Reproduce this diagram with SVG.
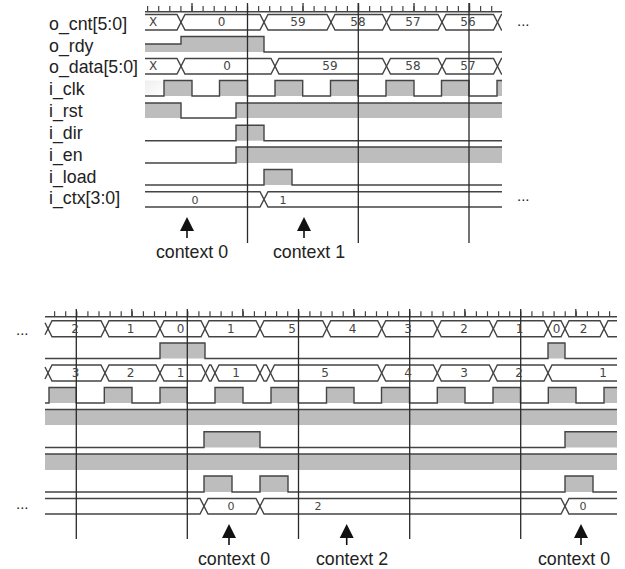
<svg xmlns="http://www.w3.org/2000/svg" width="625" height="569" viewBox="0 0 625 569">
<style>
.lbl{font:17.8px "Liberation Sans",Arial,sans-serif;fill:#222}
.v{font:12px "DejaVu Sans",sans-serif;fill:#444;text-anchor:middle}
.s{font:11px "DejaVu Sans",sans-serif;fill:#444;text-anchor:middle}
.c{text-anchor:middle}
.w{fill:none;stroke:#444;stroke-width:1.4}
.f{fill:#bdbdbd;stroke:none}
.g{fill:none;stroke:#2a2a2a;stroke-width:1.3}
.d{font:15px "Liberation Sans",sans-serif;fill:#222}
</style>
<defs>
<linearGradient id="fade" x1="0" x2="1" y1="0" y2="1"><stop offset="0" stop-color="#eeeeee"/><stop offset="1" stop-color="#fff"/></linearGradient>
<g id="arrow"><path d="M0 0L7 14H-7Z" fill="#111"/><path d="M0 13V21" stroke="#111" stroke-width="1.6"/></g>
</defs>

<g id="labels">
<text class="lbl" x="49" y="30">o_cnt[5:0]</text>
<text class="lbl" x="49" y="51.5">o_rdy</text>
<text class="lbl" x="49" y="73">o_data[5:0]</text>
<text class="lbl" x="49" y="95">i_clk</text>
<text class="lbl" x="49" y="117">i_rst</text>
<text class="lbl" x="49" y="139">i_dir</text>
<text class="lbl" x="49" y="160.5">i_en</text>
<text class="lbl" x="49" y="182.5">i_load</text>
<text class="lbl" x="49" y="204">i_ctx[3:0]</text>
<text class="d" x="517" y="26">...</text>
<text class="d" x="517" y="201">...</text>
<text class="d" x="16" y="335">...</text>
<text class="d" x="16" y="509">...</text>
</g>

<g id="fills">
<path class="f" d="M145 44H181V36.5H264V52H145Z"/>
<rect x="145" y="80.5" width="18" height="15.5" fill="url(#fade)"/>
<path class="f" d="M164 96V80.5H192V96ZM219.5 96V80.5H247.5V96ZM275 96V80.5H302.7V96ZM330.5 96V80.5H358V96ZM386 96V80.5H414V96ZM441.5 96V80.5H469V96ZM497 96V80.5H502V96Z"/>
<path class="f" d="M145 103H181V118H145ZM236 103H502V118H236Z"/>
<path class="f" d="M236 140.7V125.3H264V140.7Z"/>
<path class="f" d="M236 163V147H502V163Z"/>
<path class="f" d="M264 185V169.5H292V185Z"/>
<path class="f" d="M160 358.5V343H205V358.5ZM548 358.5V343H565V358.5Z"/>
<path class="f" d="M49 403V387.5H76.3V403ZM104.3 403V387.5H132V403ZM160 403V387.5H187.3V403ZM215 403V387.5H243V403ZM271 403V387.5H298.3V403ZM326.5 403V387.5H354V403ZM381.5 403V387.5H409.5V403ZM437.3 403V387.5H465V403ZM493 403V387.5H520.5V403ZM548.3 403V387.5H576V403ZM604 403V387.5H617V403Z"/>
<rect class="f" x="45" y="409.5" width="572" height="15.5"/>
<path class="f" d="M204 447.5V431.7H260V447.5ZM565 447.5V431.7H617V447.5Z"/>
<rect class="f" x="45" y="454" width="572" height="16"/>
<path class="f" d="M204 492V476H232V492ZM260 492V476H288V492ZM565 492V476H593V492Z"/>
</g>

<g id="connectors">
<g id="ticks-top">
<path d="M147 8.7H502" fill="none" stroke="#444" stroke-width="5.5" stroke-dasharray="1.2 9.9"/>
<path class="w" d="M145 11.7H502M192 3V11.7M303 3V11.7M358.5 3V11.7M414 3V11.7M469.5 3V11.7"/>
</g>
<g id="waves-top">
<path class="w" d="M145 14.5H177L185 30H260L268 14.5H327L335 30H382.5L390.5 14.5H438L446 30H493.5L501.5 14.5H502"/>
<path class="w" d="M145 30H177L185 14.5H260L268 30H327L335 14.5H382.5L390.5 30H438L446 14.5H493.5L501.5 30H502"/>
<path class="w" d="M145 44H181V36.5H264V52H502"/>
<path class="w" d="M145 58.5H177L185 74H271L279 58.5H382.5L390.5 74H438L446 58.5H493.5L501.5 74H502"/>
<path class="w" d="M145 74H177L185 58.5H271L279 74H382.5L390.5 58.5H438L446 74H493.5L501.5 58.5H502"/>
<path class="w" d="M145 96H164V80.5H192V96H219.5V80.5H247.5V96H275V80.5H302.7V96H330.5V80.5H358V96H386V80.5H414V96H441.5V80.5H469V96H497V80.5H502"/>
<path class="w" d="M145 103H181V118H236V103H502"/>
<path class="w" d="M145 140.7H236V125.3H264V140.7H502"/>
<path class="w" d="M145 163H236V147H502"/>
<path class="w" d="M145 185H264V169.5H292V185H502"/>
<path class="w" d="M145 191.7H260L268 207H502"/>
<path class="w" d="M145 207H260L268 191.7H502"/>
</g>
<g id="ticks-bottom">
<path d="M54 314H617" fill="none" stroke="#444" stroke-width="5.5" stroke-dasharray="1.2 9.9"/>
<path class="w" d="M45 316.7H617M131.8 309V316.7M242.8 309V316.7M353.8 309V316.7M464.8 309V316.7M575.8 309V316.7"/>
</g>
<g id="waves-bottom">
<path class="w" d="M45 322.7L52 336.7H101L109 320.7H156L164 336.7H201L209 320.7H256L264 336.7H322.7L330.7 320.7H377.7L385.7 336.7H433.3L441.3 320.7H489.3L497.3 336.7H544L552 320.7H561L569 336.7H600L608 320.7H617"/>
<path class="w" d="M45 334.7L52 320.7H101L109 336.7H156L164 320.7H201L209 336.7H256L264 320.7H322.7L330.7 336.7H377.7L385.7 320.7H433.3L441.3 336.7H489.3L497.3 320.7H544L552 336.7H561L569 320.7H600L608 336.7H617"/>
<path class="w" d="M45 358.5H160V343H205V358.5H548V343H565V358.5H617"/>
<path class="w" d="M45 367L52 381H101L109 365H156L164 381H201.5L209.5 365H211L219 381H256L264 365H266.5L274.5 381H377.7L385.7 365H433.3L441.3 381H489.3L497.3 365H544L552 381H617"/>
<path class="w" d="M45 379L52 365H101L109 381H156L164 365H201.5L209.5 381H211L219 365H256L264 381H266.5L274.5 365H377.7L385.7 381H433.3L441.3 365H489.3L497.3 381H544L552 365H617"/>
<path class="w" d="M45 403H49V387.5H76.3V403H104.3V387.5H132V403H160V387.5H187.3V403H215V387.5H243V403H271V387.5H298.3V403H326.5V387.5H354V403H381.5V387.5H409.5V403H437.3V387.5H465V403H493V387.5H520.5V403H548.3V387.5H576V403H604V387.5H617"/>
<path class="w" d="M45 409.5H617"/>
<path class="w" d="M45 447.5H204V431.7H260V447.5H565V431.7H617"/>
<path class="w" d="M45 454H617"/>
<path class="w" d="M45 492H204V476H232V492H260V476H288V492H565V476H593V492H617"/>
<path class="w" d="M45 498.5H200L208 514H256L264 498.5H561L569 514H617"/>
<path class="w" d="M45 514H200L208 498.5H256L264 514H561L569 498.5H617"/>
</g>
<g id="guides">
<path class="g" d="M247.5 3V243M358.3 3V243M469 3V243"/>
<path class="g" d="M76.3 309V539M187.3 309V539M298.5 309V539M409.7 309V539M520.7 309V539"/>
</g>
</g>

<g id="values">
<text class="v" x="153" y="26">X</text>
<text class="v" x="221.5" y="26">0</text>
<text class="v" x="298" y="26">59</text>
<text class="v" x="358" y="26">58</text>
<text class="v" x="413" y="26">57</text>
<text class="v" x="468" y="26">56</text>
<text class="v" x="153" y="70">X</text>
<text class="v" x="227" y="70">0</text>
<text class="v" x="330" y="70">59</text>
<text class="v" x="413" y="70">58</text>
<text class="v" x="468" y="70">57</text>
<text class="s" x="195" y="203.5">0</text>
<text class="s" x="283" y="203.5">1</text>
<text class="v" x="75" y="333">2</text>
<text class="v" x="130.5" y="333">1</text>
<text class="v" x="180.5" y="333">0</text>
<text class="v" x="230.7" y="333">1</text>
<text class="v" x="292" y="333">5</text>
<text class="v" x="352.5" y="333">4</text>
<text class="v" x="408" y="333">3</text>
<text class="v" x="464" y="333">2</text>
<text class="v" x="519.5" y="333">1</text>
<text class="v" x="556.5" y="333">0</text>
<text class="v" x="583.5" y="333">2</text>
<text class="v" x="75.5" y="377">3</text>
<text class="v" x="130.5" y="377">2</text>
<text class="v" x="180.5" y="377">1</text>
<text class="v" x="236" y="377">1</text>
<text class="v" x="325" y="377">5</text>
<text class="v" x="408" y="377">4</text>
<text class="v" x="464" y="377">3</text>
<text class="v" x="519" y="377">2</text>
<text class="v" x="603" y="377">1</text>
<text class="s" x="231" y="510">0</text>
<text class="s" x="318" y="510">2</text>
<text class="s" x="583" y="510">0</text>
</g>

<g id="context-top">
<use href="#arrow" x="187" y="217"/>
<use href="#arrow" x="304" y="217"/>
<text class="lbl c" x="192" y="258">context 0</text>
<text class="lbl c" x="309" y="258">context 1</text>
</g>
<g id="context-bottom">
<use href="#arrow" x="229" y="524"/>
<use href="#arrow" x="346.7" y="524"/>
<use href="#arrow" x="581" y="524"/>
<text class="lbl c" x="234" y="565">context 0</text>
<text class="lbl c" x="352" y="565">context 2</text>
<text class="lbl c" x="574" y="565">context 0</text>
</g>
</svg>
